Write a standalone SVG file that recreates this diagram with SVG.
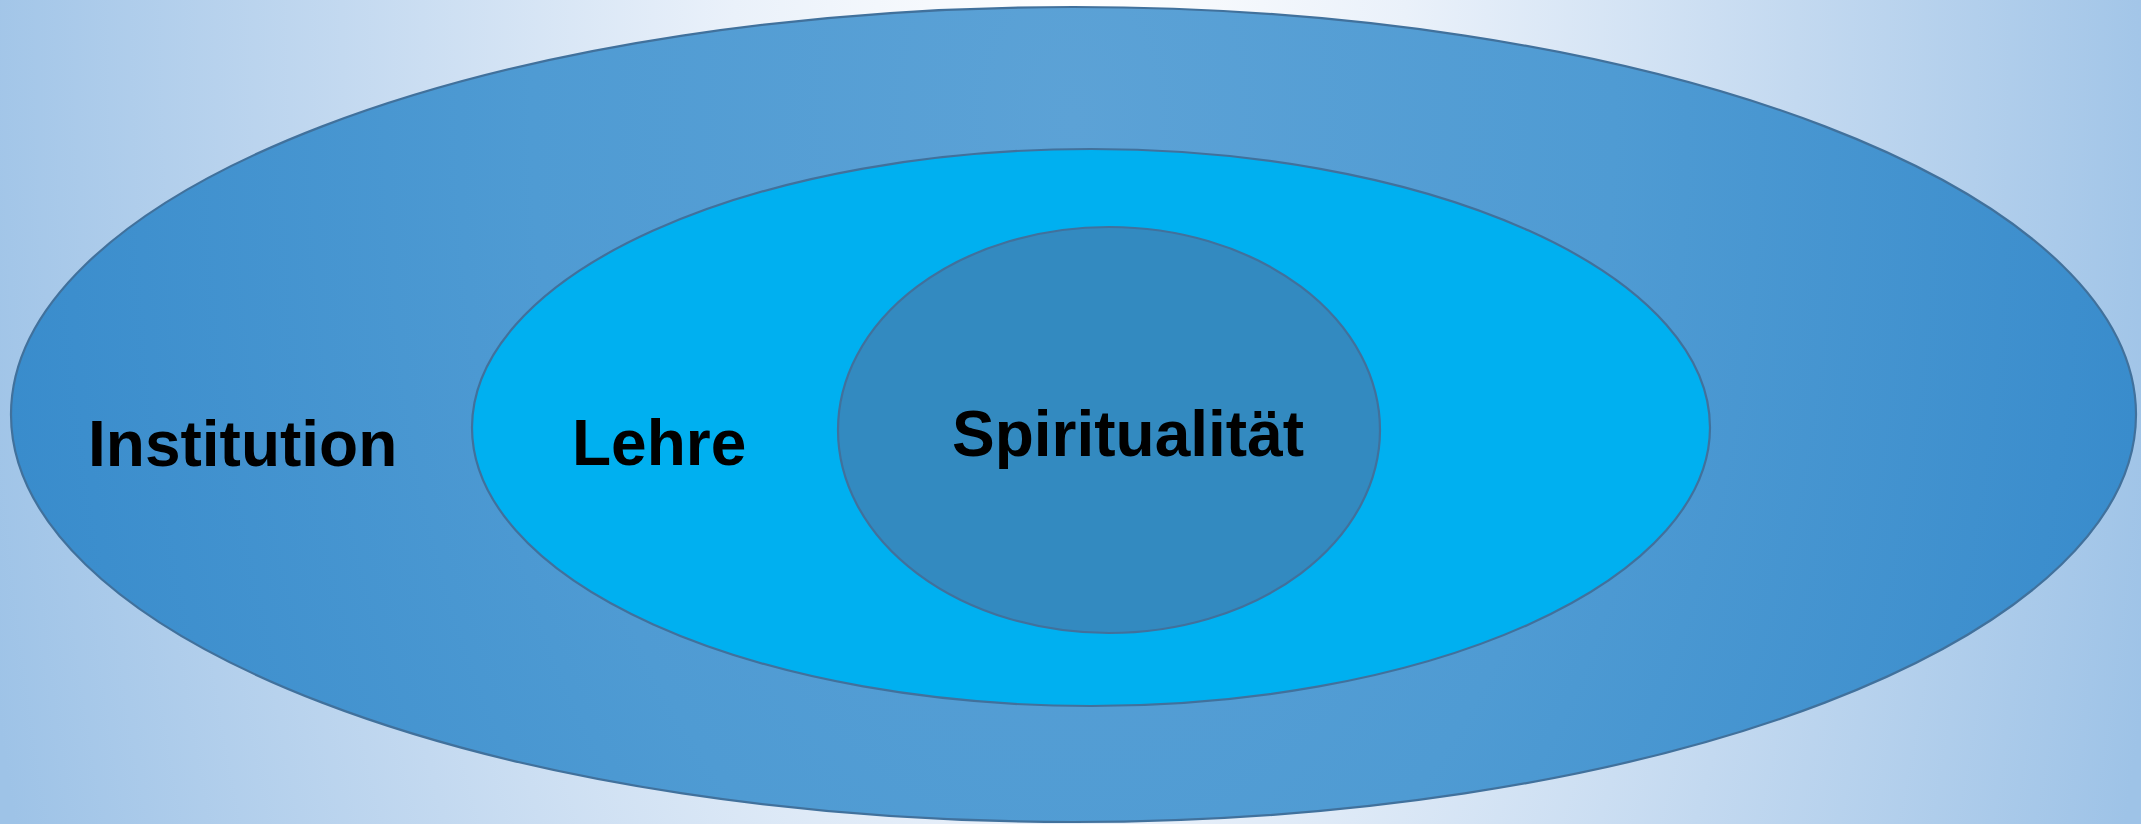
<svg xmlns="http://www.w3.org/2000/svg" width="2141" height="824" viewBox="0 0 2141 824">
  <defs>
    <radialGradient id="bg" gradientUnits="userSpaceOnUse" cx="1070" cy="0" r="1120" gradientTransform="translate(1070 0) scale(1 2.2) translate(-1070 0)">
      <stop offset="0" stop-color="#FFFFFF"/>
      <stop offset="0.3" stop-color="#EAF1FA"/>
      <stop offset="0.65" stop-color="#C3D9F0"/>
      <stop offset="1" stop-color="#9EC3E7"/>
    </radialGradient>
    <radialGradient id="outerFill" gradientUnits="userSpaceOnUse" cx="1073" cy="120" r="1080" gradientTransform="translate(1073 120) scale(1 1.6) translate(-1073 -120)">
      <stop offset="0" stop-color="#5CA2D6"/>
      <stop offset="0.5" stop-color="#4F9BD3"/>
      <stop offset="1" stop-color="#398CCC"/>
    </radialGradient>
    <style>
      .ring { stroke: #41719C; stroke-width: 2.2; }
      .label { font-family: "Liberation Sans", Arial, sans-serif; font-weight: bold; font-size: 64px; fill: #000000; }
    </style>
  </defs>
  <rect x="0" y="0" width="2141" height="824" fill="url(#bg)"/>
  <g id="institution">
    <ellipse class="ring" cx="1073.5" cy="414.5" rx="1062.5" ry="407.5" fill="url(#outerFill)"/>
    <text class="label" x="88" y="466">Institution</text>
  </g>
  <g id="lehre">
    <ellipse class="ring" cx="1091" cy="427.5" rx="619" ry="278.5" fill="#00B0F0"/>
    <text class="label" x="572" y="465">Lehre</text>
  </g>
  <g id="spiritualitaet">
    <ellipse class="ring" cx="1109" cy="430" rx="271" ry="203" fill="#338AC0"/>
    <text class="label" x="952" y="456">Spiritualität</text>
  </g>
  <g id="connectors"/>
</svg>
